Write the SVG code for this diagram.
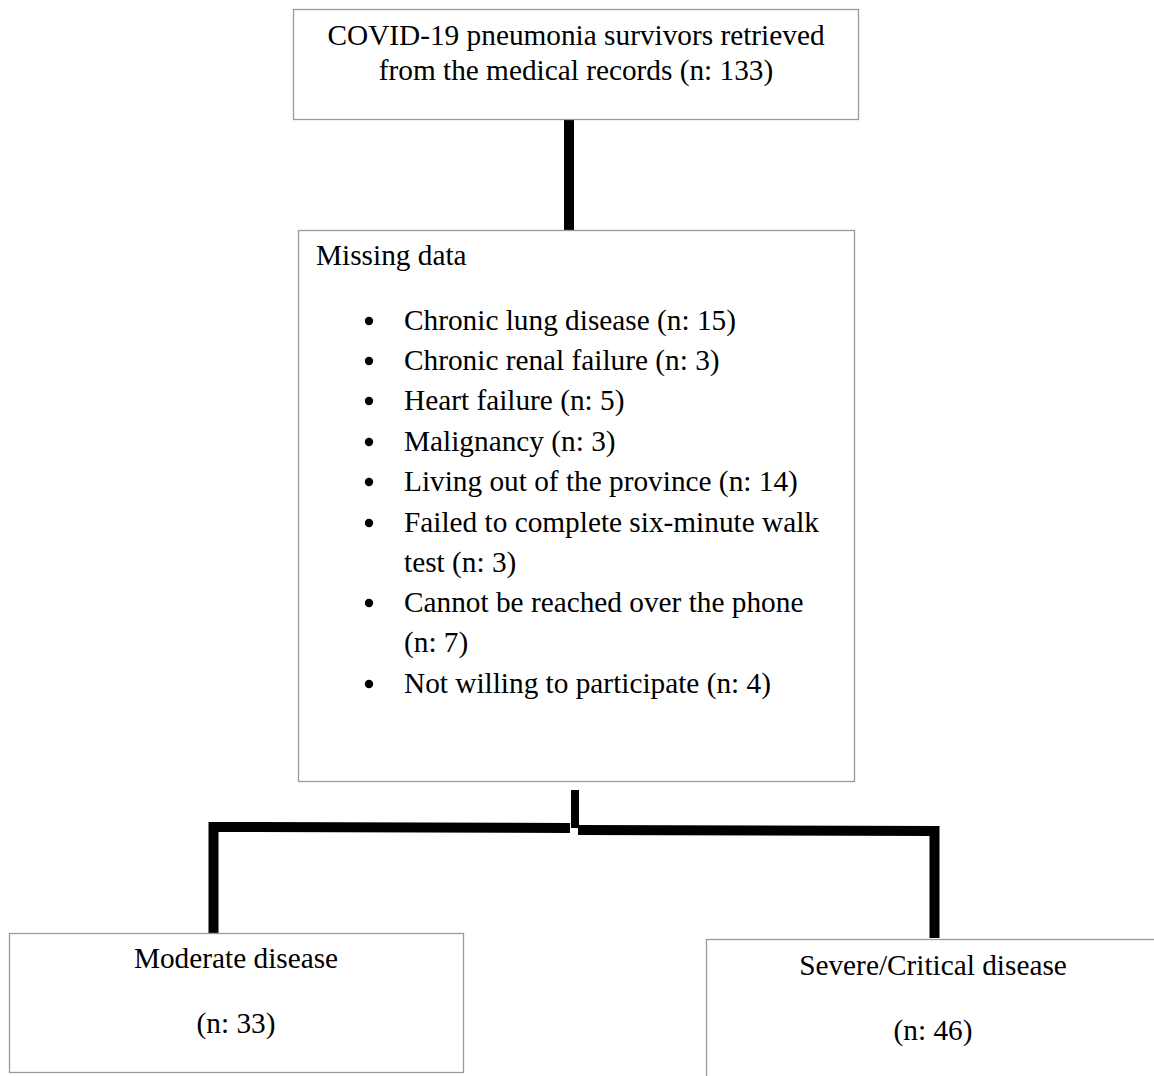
<svg xmlns="http://www.w3.org/2000/svg" width="1154" height="1076" viewBox="0 0 1154 1076">
<style>
.box{fill:#fff;stroke:#9a9a9a;stroke-width:1.3}
.t{font-family:"Liberation Serif","Times New Roman",serif;font-size:29.3px;fill:#000}
.c{text-anchor:middle}
.ln{stroke:#000;fill:none;stroke-linecap:butt}
.b{fill:#000}
</style>
<rect width="1154" height="1076" fill="#fff"/>
<g id="connectors">
<line class="ln" x1="569" y1="119" x2="569" y2="230" stroke-width="10"/>
<line class="ln" x1="575" y1="790" x2="575" y2="828" stroke-width="8"/>
<polyline class="ln" points="213.5,933 213.5,827 570,828" stroke-width="10"/>
<polyline class="ln" points="578,830 934.5,831 934.5,938" stroke-width="10"/>
</g>
<g id="n1">
<rect class="box" x="293.5" y="9.5" width="565" height="110"/>
<text class="t c" x="576" y="45">COVID-19 pneumonia survivors retrieved</text>
<text class="t c" x="576" y="80">from the medical records (n: 133)</text>
</g>
<g id="n2">
<rect class="box" x="298.5" y="230.5" width="556" height="551"/>
<text class="t" x="316" y="265">Missing data</text>
<g class="b">
<circle cx="369" cy="321" r="4.2"/>
<circle cx="369" cy="361" r="4.2"/>
<circle cx="369" cy="401" r="4.2"/>
<circle cx="369" cy="442" r="4.2"/>
<circle cx="369" cy="482" r="4.2"/>
<circle cx="369" cy="523" r="4.2"/>
<circle cx="369" cy="603" r="4.2"/>
<circle cx="369" cy="684" r="4.2"/>
</g>
<g class="t">
<text x="404" y="330">Chronic lung disease (n: 15)</text>
<text x="404" y="370">Chronic renal failure (n: 3)</text>
<text x="404" y="410">Heart failure (n: 5)</text>
<text x="404" y="451">Malignancy (n: 3)</text>
<text x="404" y="491">Living out of the province (n: 14)</text>
<text x="404" y="532">Failed to complete six-minute walk</text>
<text x="404" y="572">test (n: 3)</text>
<text x="404" y="612">Cannot be reached over the phone</text>
<text x="404" y="652">(n: 7)</text>
<text x="404" y="693">Not willing to participate (n: 4)</text>
</g>
</g>
<g id="n3">
<rect class="box" x="9.5" y="933.5" width="454" height="139"/>
<text class="t c" x="236" y="968">Moderate disease</text>
<text class="t c" x="236" y="1033">(n: 33)</text>
</g>
<g id="n4">
<rect class="box" x="706.5" y="939.5" width="460" height="150"/>
<text class="t c" x="933" y="975">Severe/Critical disease</text>
<text class="t c" x="933" y="1040">(n: 46)</text>
</g>
</svg>
